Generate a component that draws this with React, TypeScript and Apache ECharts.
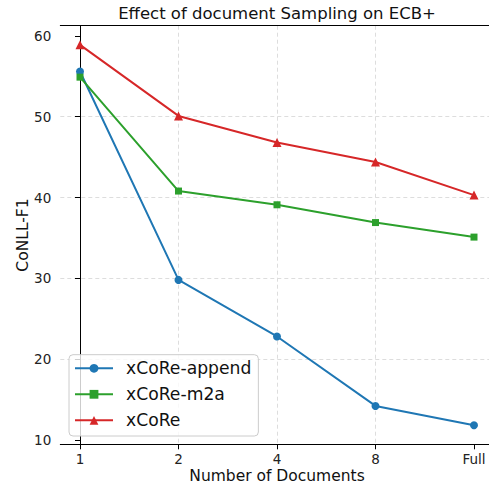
import React, { useEffect, useRef } from "react";
import * as echarts from "echarts";

const categories = ["1", "2", "4", "8", "Full"];
const appendValues = [55.6, 29.8, 22.8, 14.2, 11.8];
const m2aValues = [54.9, 40.8, 39.1, 36.9, 35.1];
const xcoreValues = [58.9, 50.1, 46.8, 44.4, 40.3];
const yTicks = [10, 20, 30, 40, 50, 60];
const xTicks = [0, 1, 2, 3, 4];

const FONT = "DejaVu Sans";

function toPoints(vals: number[]) {
  return vals.map((v, i) => [i, v]);
}

export default function App() {
  const ref = useRef<HTMLDivElement>(null);
  useEffect(() => {
    if (!ref.current) return;
    const chart = echarts.init(ref.current, undefined, { renderer: "svg" });
    const gridLeft = 60.3;
    const gridTop = 25.7;
    const gridWidth = 433.4;
    const gridHeight = 418.6;
    chart.setOption({
      animation: false,
      backgroundColor: "#ffffff",
      textStyle: { fontFamily: FONT },
      graphic: [
        {
          type: "text",
          x: gridLeft + gridWidth / 2,
          y: 13.2,
          style: {
            text: "Effect of document Sampling on ECB+",
            font: `16.5px "${FONT}"`,
            fill: "#111111",
            textAlign: "center",
            textVerticalAlign: "middle",
          },
        },
      ],
      grid: {
        left: gridLeft,
        top: gridTop,
        width: gridWidth,
        height: gridHeight,
        containLabel: false,
        outerBoundsMode: "none",
      },
      legend: {
        orient: "vertical",
        left: 69,
        top: 354.7,
        padding: [4.6, 7, 6.7, 5],
        itemWidth: 38,
        itemHeight: 11,
        itemGap: 8,
        backgroundColor: "rgba(255,255,255,0.8)",
        borderColor: "#cccccc",
        borderWidth: 1,
        borderRadius: 4,
        textStyle: { fontFamily: FONT, fontSize: 17.2, lineHeight: 18, color: "#111111", padding: [0, 0, 0, 8] },
        data: ["xCoRe-append", "xCoRe-m2a", "xCoRe"],
      },
      xAxis: [
        {
          type: "value",
          min: -0.2,
          max: 4.2,
          name: "Number of Documents",
          nameLocation: "middle",
          nameGap: 24,
          nameMoveOverlap: false,
          nameTextStyle: { fontFamily: FONT, fontSize: 15.5, color: "#111111" },
          axisLine: { show: true, lineStyle: { color: "#000000", width: 1 } },
          axisTick: { show: true, length: 5, lineStyle: { color: "#000000" }, customValues: xTicks },
          axisLabel: {
            customValues: xTicks,
            fontFamily: FONT,
            fontSize: 13.5,
            color: "#222222",
            margin: 8,
            formatter: (v: number) => categories[Math.round(v)] ?? "",
          },
          splitLine: {
            show: true,
            showMinLine: false,
            showMaxLine: false,
            lineStyle: { color: "#dddddd", type: [4, 3], width: 1 },
          },
        },
        {
          type: "value",
          position: "top",
          min: -0.2,
          max: 4.2,
          axisLine: { show: true, lineStyle: { color: "#000000", width: 1 } },
          axisTick: { show: false },
          axisLabel: { show: false },
          splitLine: { show: false },
        },
      ],
      yAxis: {
        type: "value",
        min: 9.45,
        max: 61.27,
        name: "CoNLL-F1",
        nameLocation: "middle",
        nameGap: 29,
        nameMoveOverlap: false,
        nameTextStyle: { fontFamily: FONT, fontSize: 15.5, color: "#111111" },
        axisLine: { show: true, lineStyle: { color: "#000000", width: 1 } },
        axisTick: { show: true, length: 5, lineStyle: { color: "#000000" }, customValues: yTicks },
        axisLabel: { customValues: yTicks, fontFamily: FONT, fontSize: 13.5, color: "#222222", margin: 9 },
        splitLine: {
          show: true,
          showMinLine: false,
          showMaxLine: false,
          lineStyle: { color: "#dddddd", type: [4, 3], width: 1 },
        },
      },
      series: [
        {
          name: "xCoRe-append",
          type: "line",
          data: toPoints(appendValues),
          symbol: "circle",
          symbolSize: 8,
          color: "#1f77b4",
          lineStyle: { width: 2, color: "#1f77b4" },
          itemStyle: { color: "#1f77b4" },
        },
        {
          name: "xCoRe-m2a",
          type: "line",
          data: toPoints(m2aValues),
          symbol: "rect",
          symbolSize: 7,
          color: "#2ca02c",
          lineStyle: { width: 2, color: "#2ca02c" },
          itemStyle: { color: "#2ca02c" },
        },
        {
          name: "xCoRe",
          type: "line",
          data: toPoints(xcoreValues),
          symbol: "triangle",
          symbolSize: 9,
          color: "#d62728",
          lineStyle: { width: 2, color: "#d62728" },
          itemStyle: { color: "#d62728" },
        },
      ],
    });
    return () => chart.dispose();
  }, []);
  return <div ref={ref} style={{ position: "absolute", left: 0, top: 0, width: 489, height: 486 }} />;
}
